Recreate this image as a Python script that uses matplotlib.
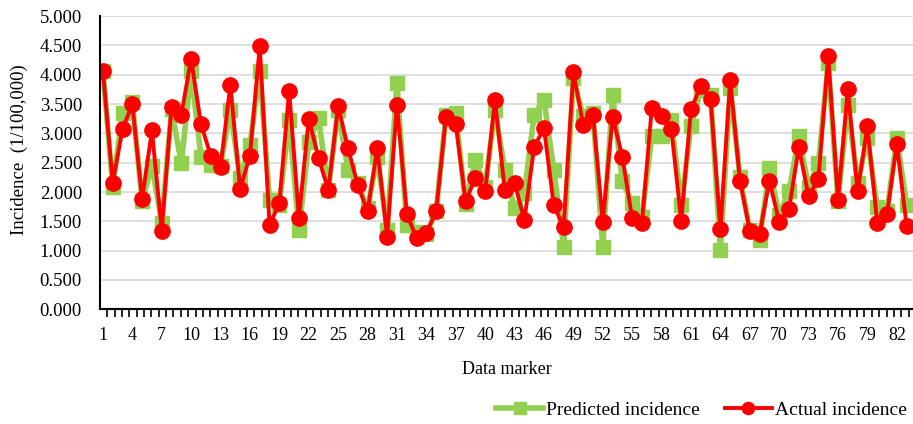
import numpy as np
import matplotlib.pyplot as plt
from matplotlib.ticker import FormatStrFormatter, MultipleLocator, FixedLocator

plt.rcParams['font.family'] = ['Liberation Serif', 'DejaVu Serif']

markers = np.arange(1, 84)

predicted = [
    4.06, 2.09, 3.35, 3.54, 1.84, 2.45, 1.48, 3.41, 2.49, 4.06,
    2.60, 2.46, 2.44, 3.40, 2.24, 2.80, 4.07, 1.87, 1.78, 3.22,
    1.35, 2.85, 3.26, 2.04, 3.40, 2.38, 2.15, 1.72, 2.60, 1.35,
    3.86, 1.44, 1.32, 1.28, 1.67, 3.32, 3.34, 1.80, 2.55, 2.09,
    3.40, 2.38, 1.72, 1.98, 3.32, 3.57, 2.38, 1.07, 3.94, 3.29,
    3.34, 1.07, 3.66, 2.18, 1.81, 1.58, 2.95, 2.95, 3.23, 1.78,
    3.12, 3.74, 3.66, 1.01, 3.77, 2.26, 1.35, 1.18, 2.41, 1.61,
    2.01, 2.95, 2.09, 2.49, 4.20, 1.84, 3.49, 2.15, 2.92, 1.75,
    1.67, 2.92, 1.78,
]

actual = [
    4.07, 2.16, 3.07, 3.50, 1.88, 3.05, 1.34, 3.45, 3.32, 4.27,
    3.16, 2.62, 2.42, 3.83, 2.05, 2.62, 4.49, 1.44, 1.81, 3.73,
    1.56, 3.25, 2.58, 2.03, 3.47, 2.75, 2.12, 1.67, 2.75, 1.24,
    3.49, 1.63, 1.21, 1.30, 1.67, 3.28, 3.16, 1.84, 2.24, 2.01,
    3.57, 2.03, 2.16, 1.52, 2.77, 3.09, 1.78, 1.40, 4.04, 3.15,
    3.32, 1.49, 3.28, 2.60, 1.55, 1.48, 3.43, 3.29, 3.07, 1.51,
    3.41, 3.81, 3.58, 1.37, 3.91, 2.19, 1.34, 1.28, 2.19, 1.49,
    1.71, 2.76, 1.93, 2.22, 4.32, 1.87, 3.75, 2.01, 3.12, 1.48,
    1.63, 2.82, 1.42,
]

fig = plt.figure(figsize=(9.13, 4.24), dpi=100)
ax = fig.add_axes([0.1095, 0.2705, 0.8905, 0.6915])

ax.yaxis.grid(True, color='#d9d9d9', linewidth=1.2)
ax.set_axisbelow(True)

ax.plot(markers, predicted, color='#92d050', linewidth=4, marker='s',
        markersize=10, label='Predicted incidence')
ax.plot(markers, actual, color='#ff0000', linewidth=2.8, marker='o',
        markersize=11, label='Actual incidence')

ax.set_xlim(0.7, 83.65)
ax.set_ylim(0, 5)
ax.yaxis.set_major_locator(MultipleLocator(0.5))
ax.yaxis.set_major_formatter(FormatStrFormatter('%.3f'))
ax.set_xticks(markers[::3])
ax.xaxis.set_minor_locator(FixedLocator(np.arange(1.45, 84, 0.75)))
ax.tick_params(axis='x', which='major', length=0, pad=13, labelsize=13)
ax.tick_params(axis='x', which='minor', length=6, width=1.2, direction='out')
ax.tick_params(axis='y', length=0, pad=13, labelsize=13.5)

for side in ('top', 'right'):
    ax.spines[side].set_visible(False)
for side in ('left', 'bottom'):
    ax.spines[side].set_linewidth(1.5)

ax.set_xlabel('Data marker', fontsize=13, labelpad=12)
ax.set_ylabel('Incidence  (1/100,000)', fontsize=13.5)
ax.yaxis.set_label_coords(-0.088, 0.544)

fig.legend(loc='lower right', bbox_to_anchor=(1.012, -0.03), ncol=2,
           frameon=False, fontsize=14, handlelength=2.4, columnspacing=1.3,
           handletextpad=0.15, markerscale=0.8)

fig.savefig('out.png', dpi=100)
